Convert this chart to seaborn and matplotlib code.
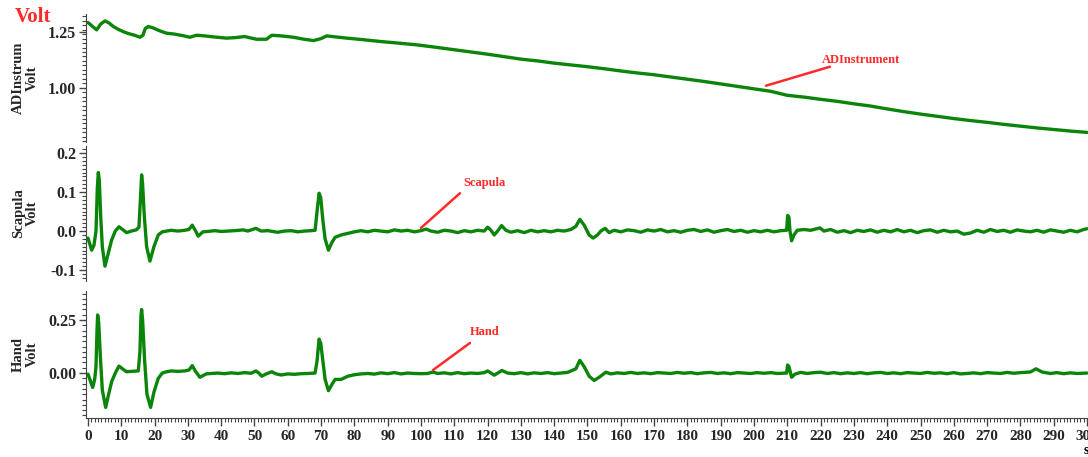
import matplotlib
matplotlib.use("Agg")
import matplotlib.pyplot as plt
import seaborn as sns
from matplotlib.ticker import MultipleLocator, FormatStrFormatter

sns.set_style("ticks")
plt.rcParams['font.family'] = ['Liberation Serif', 'DejaVu Serif']
plt.rcParams['font.weight'] = 'bold'
plt.rcParams['axes.unicode_minus'] = False

# ---------------- data ----------------
adi_t = [0, 1.3, 2.6, 3.8, 5.1, 6.3, 7.6, 9, 10.6, 12, 14, 15.6, 16.5, 17.2, 18.1, 19.5, 21.5, 23.6,
         26, 28.5, 30.6, 32.6, 35, 38, 41.6, 44, 47.1, 48.5, 50.6, 53.6, 55.2, 58, 61.7, 64.5, 67.7,
         70, 71.7, 74, 77.7, 82, 87.7, 93, 98.7, 105, 110, 115, 120, 125, 130, 135, 140, 145, 150,
         155, 160, 165, 170, 175, 180, 185, 190, 195, 200, 205, 210, 215, 220, 225, 230, 235, 240,
         245, 250, 255, 260, 265, 270, 275, 280, 285, 290, 295, 300]
adi_v = [1.292, 1.275, 1.259, 1.285, 1.299, 1.29, 1.274, 1.262, 1.251, 1.243, 1.235, 1.226, 1.235,
         1.265, 1.274, 1.268, 1.255, 1.244, 1.24, 1.233, 1.226, 1.235, 1.232, 1.227, 1.222, 1.224,
         1.229, 1.224, 1.217, 1.217, 1.235, 1.232, 1.226, 1.218, 1.211, 1.22, 1.232, 1.228, 1.222,
         1.216, 1.207, 1.2, 1.192, 1.18, 1.17, 1.16, 1.15, 1.139, 1.128, 1.12, 1.11, 1.102, 1.094,
         1.085, 1.075, 1.066, 1.058, 1.048, 1.038, 1.028, 1.017, 1.006, 0.995, 0.984, 0.966, 0.958,
         0.948, 0.939, 0.928, 0.918, 0.905, 0.893, 0.882, 0.872, 0.862, 0.853, 0.845, 0.836, 0.828,
         0.82, 0.813, 0.806, 0.80]

scap_t = [0, 1.1, 1.8, 2.4, 2.8, 3.1, 3.4, 3.8, 4.3, 5.1, 6.0, 7.1, 8.2, 9.3, 10.5, 11.6, 13.0, 14.5,
          15.3, 15.8, 16.1, 16.4, 16.9, 17.6, 18.6, 19.8, 21.1, 22.3, 23.6, 25, 27, 29, 30.3, 31.3,
          32.2, 33.1, 34.5, 36, 38, 40, 42, 44, 46.6, 48, 50.4, 52, 54, 56.9, 59, 61, 63, 65, 67, 68.2,
          68.9, 69.4, 69.9, 70.5, 71.2, 72.2, 73.2, 74.2, 76, 78, 80, 82, 84, 86, 88, 90, 92, 94, 96,
          98, 100, 101.5, 103, 105, 107, 109, 111, 113, 115, 117, 119, 120, 121, 122, 123, 124.2, 125.5,
          127, 129, 131, 133, 135, 137, 139, 141, 143, 145, 146.5, 147.7, 149, 150.5, 151.7, 153, 154,
          155.3, 156.5, 158, 160, 162, 164, 166, 168, 170, 172, 174, 176, 178, 180, 182, 184, 186, 188,
          190, 192, 194, 196, 198, 200, 202, 204, 206, 208, 209.8, 210.1, 210.5, 210.8, 211.3, 212, 213,
          215, 217, 219.8, 221, 223, 225, 227, 229, 231, 233, 235, 237, 239, 241, 243, 245, 247, 249,
          251, 253, 255, 257, 259, 261, 263, 265, 267, 269, 271, 273, 275, 277, 279, 281, 283, 285,
          287, 289, 291, 293, 295, 297, 299, 300]
scap_v = [-0.018, -0.049, -0.036, 0.0, 0.11, 0.15, 0.13, 0.04, -0.04, -0.09, -0.06, -0.023, 0.0,
          0.011, 0.003, -0.004, 0.0, 0.003, 0.01, 0.09, 0.144, 0.12, 0.04, -0.04, -0.077, -0.04,
          -0.01, -0.002, 0.0, 0.002, 0.0, 0.002, 0.004, 0.015, 0.002, -0.013, -0.002, -0.001, 0.001,
          -0.001, 0.0, 0.001, 0.003, 0.0, 0.007, 0.0, 0.001, -0.003, 0.0, 0.001, -0.002, 0.0, 0.001,
          0.002, 0.06, 0.097, 0.085, 0.03, -0.02, -0.049, -0.03, -0.016, -0.01, -0.006, -0.002, 0.001,
          -0.002, 0.002, 0.0, -0.002, 0.003, 0.0, 0.002, -0.002, 0.001, 0.005, 0.0, -0.003, 0.002, 0.0,
          -0.004, 0.001, -0.002, 0.002, 0.0, 0.01, 0.002, -0.01, 0.0, 0.014, 0.002, -0.003, 0.001,
          -0.004, 0.002, -0.002, 0.001, -0.002, 0.002, 0.0, 0.004, 0.012, 0.03, 0.015, -0.01, -0.018,
          -0.01, 0.0, 0.007, -0.004, 0.002, -0.002, 0.003, 0.001, -0.003, 0.003, 0.0, 0.004, -0.002,
          0.001, -0.003, 0.002, 0.004, -0.001, 0.003, -0.003, 0.001, 0.004, -0.001, 0.002, -0.003,
          0.001, -0.002, 0.002, -0.002, 0.001, 0.002, 0.04, 0.035, 0.0, -0.025, -0.01, 0.002, 0.004,
          0.002, 0.008, 0.0, 0.004, -0.003, 0.001, -0.004, 0.002, -0.001, 0.003, -0.003, 0.002, -0.002,
          0.004, -0.002, 0.002, -0.004, 0.001, 0.003, -0.003, 0.002, -0.002, 0.0, -0.008, -0.005,
          0.002, -0.003, 0.004, -0.001, 0.002, -0.003, 0.003, 0.0, -0.002, 0.002, -0.003, 0.003, 0.0,
          -0.003, 0.002, -0.002, 0.004, 0.006]

hand_t = [0, 1.4, 2.0, 2.4, 2.7, 2.9, 3.2, 3.7, 4.3, 5.3, 6.2, 7.1, 8.2, 9.3, 10.5, 11.6, 13, 15.1,
          15.6, 15.9, 16.1, 16.4, 17.0, 17.7, 18.8, 19.8, 21.1, 22.3, 23.6, 25, 27, 29, 30.3, 31.3,
          32.3, 33.6, 35.5, 37, 39, 41, 43, 45, 47, 49, 50.4, 51.3, 52.2, 53.5, 55.2, 56.5, 58, 60, 62,
          64, 66, 68.2, 68.8, 69.4, 69.9, 70.5, 71.2, 72.2, 73.2, 74.2, 76, 78, 80, 82, 84, 86, 88, 90,
          92, 94, 96, 98, 100, 102, 103.6, 105, 107, 109, 111, 113, 115, 117, 119, 120, 122, 124.3,
          126, 128, 130, 132, 134, 136, 138, 140, 142, 144, 146.5, 147.7, 149, 150.5, 152, 153.5,
          155.5, 157, 159, 161, 163, 165, 167, 169, 171, 173, 175, 177, 179, 181, 183, 185, 187, 189,
          191, 193, 195, 197, 199, 201, 203, 205, 207, 209.8, 210.1, 210.5, 211.3, 212.3, 214, 216,
          218, 220, 222, 224, 226, 228, 230, 232, 234, 236, 238, 240, 242, 244, 246, 248, 250, 252,
          254, 256, 258, 260, 262, 264, 266, 268, 270, 272, 274, 276, 278, 280, 283, 284.7, 286.5,
          289, 291, 293, 295, 297, 300]
hand_v = [-0.005, -0.068, -0.03, 0.03, 0.2, 0.274, 0.24, 0.08, -0.08, -0.162, -0.1, -0.041, 0.0,
          0.033, 0.018, 0.006, 0.008, 0.01, 0.1, 0.27, 0.30, 0.25, 0.06, -0.1, -0.162, -0.09, -0.025,
          0.0, 0.006, 0.01, 0.008, 0.01, 0.014, 0.035, 0.008, -0.02, -0.004, -0.002, 0.0, -0.003,
          0.001, -0.002, 0.002, -0.001, 0.01, 0.0, -0.015, -0.004, 0.006, -0.004, -0.009, -0.004,
          -0.006, -0.003, -0.002, 0.0, 0.06, 0.16, 0.14, 0.06, -0.03, -0.083, -0.055, -0.03, -0.03,
          -0.015, -0.008, -0.004, -0.002, -0.005, 0.001, -0.003, 0.002, -0.004, 0.0, -0.002, -0.003,
          -0.002, 0.005, -0.002, 0.001, -0.004, 0.002, -0.003, 0.0, -0.002, 0.002, 0.01, -0.01, 0.012,
          0.0, -0.003, 0.002, -0.004, 0.001, -0.002, 0.002, -0.003, 0.0, 0.003, 0.02, 0.06, 0.03,
          -0.015, -0.035, -0.02, 0.004, -0.004, 0.001, -0.002, 0.003, -0.002, 0.001, -0.003, 0.002,
          0.0, -0.002, 0.003, -0.001, 0.002, -0.003, 0.001, 0.003, -0.002, 0.001, -0.003, 0.002, 0.0,
          -0.002, 0.002, -0.001, 0.002, -0.002, 0.0, 0.038, 0.03, -0.02, -0.005, 0.003, -0.002, 0.002,
          0.004, -0.002, 0.002, -0.003, 0.001, -0.002, 0.002, -0.003, 0.001, 0.003, -0.002, 0.001,
          -0.003, 0.002, 0.0, -0.002, 0.003, -0.001, 0.001, -0.003, 0.002, -0.004, -0.002, 0.001,
          -0.003, 0.002, 0.0, -0.002, 0.003, -0.001, 0.002, 0.005, 0.02, 0.005, -0.002, 0.002, -0.003,
          0.001, -0.002, 0.0]

panel_names = ["ADInstrum\nVolt", "Scapula\nVolt", "Hand\nVolt"]
annot_texts = ["ADInstrument", "Scapula", "Hand"]
annot_xy = [(203.6, 1.009), (100.0, 0.008), (103.6, 0.014)]
annot_end = [(222.8, 1.094), (111.7, 0.097), (114.7, 0.142)]
annot_txt_pos = [(220.4, 1.125), (112.6, 0.123), (114.7, 0.193)]

ylims = [(0.757, 1.33), (-0.128, 0.218), (-0.212, 0.387)]
ymajor = [0.25, 0.1, 0.25]
yminor = [0.02, 0.01, 0.025]
yfmt = ["%.2f", "%.1f", "%.2f"]

GREEN = "#0a850a"
RED = "#ff2a2a"

fig = plt.figure(figsize=(10.88, 4.57), dpi=100)
W, H = 1088, 457
boxes = [(14, 142), (146, 281), (291, 418)]
axes = []
for (top, bot) in boxes:
    ax = fig.add_axes([86 / W, 1 - bot / H, 1002 / W, (bot - top) / H])
    axes.append(ax)

series = [(adi_t, adi_v), (scap_t, scap_v), (hand_t, hand_v)]
for i, ax in enumerate(axes):
    t, v = series[i]
    sns.lineplot(x=t, y=v, ax=ax, color=GREEN, linewidth=2.4, sort=False)
    ax.set_xlim(-0.6, 300.3)
    ax.set_ylim(*ylims[i])
    ax.yaxis.set_major_locator(MultipleLocator(ymajor[i]))
    ax.yaxis.set_minor_locator(MultipleLocator(yminor[i]))
    ax.yaxis.set_major_formatter(FormatStrFormatter(yfmt[i]))
    ax.xaxis.set_major_locator(MultipleLocator(10))
    ax.xaxis.set_minor_locator(MultipleLocator(1))
    for s in ["top", "right"]:
        ax.spines[s].set_visible(False)
    ax.spines["left"].set_color("#444444")
    ax.spines["bottom"].set_color("#444444")
    ax.tick_params(axis="y", which="major", direction="out", length=5, width=1, color="#444444",
                   labelsize=11.5, pad=2)
    ax.tick_params(axis="y", which="minor", direction="out", length=3, width=0.8, color="#444444")
    ax.tick_params(axis="x", which="major", direction="out", length=6, width=1, color="#444444",
                   labelsize=11, pad=3)
    ax.tick_params(axis="x", which="minor", direction="out", length=3, width=0.8, color="#444444")
    for lab in ax.get_yticklabels():
        lab.set_fontweight("bold")
    if i < 2:
        ax.spines["bottom"].set_visible(False)
        ax.tick_params(axis="x", which="both", bottom=False, labelbottom=False)
    else:
        for lab in ax.get_xticklabels():
            lab.set_fontweight("bold")
    ax.set_xlabel("")
    ax.set_ylabel(panel_names[i], fontsize=10.5, fontweight="bold", linespacing=1.1)
    ax.yaxis.set_label_coords(-0.047, 0.5)
    ax.patch.set_alpha(0)

    ax.annotate("", xy=annot_xy[i], xytext=annot_end[i],
                arrowprops=dict(arrowstyle="-", color=RED, lw=1.8, shrinkA=0, shrinkB=0))
    ax.text(annot_txt_pos[i][0], annot_txt_pos[i][1], annot_texts[i], color=RED,
            fontsize=9, fontweight="bold", ha="left", va="center")

fig.text(15 / W, 1 - 17 / H, "Volt", color=RED, fontsize=15, fontweight="bold", ha="left", va="center")
fig.text(1084 / W, 1 - 450 / H, "s", color="black", fontsize=10, fontweight="bold", ha="left", va="center")

fig.savefig("out.png", dpi=100)
